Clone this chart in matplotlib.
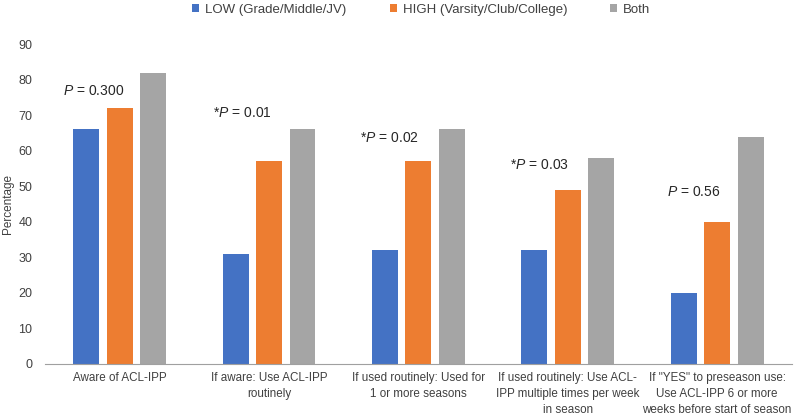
import numpy as np
import matplotlib
matplotlib.use("Agg")
import matplotlib.pyplot as plt

plt.rcParams['font.family'] = ['Liberation Sans', 'DejaVu Sans']
plt.rcParams['mathtext.fontset'] = 'custom'
plt.rcParams['mathtext.it'] = 'Liberation Sans:italic'
plt.rcParams['mathtext.rm'] = 'Liberation Sans'

categories = ["Aware of ACL-IPP",
              "If aware: Use ACL-IPP\nroutinely",
              "If used routinely: Used for\n1 or more seasons",
              "If used routinely: Use ACL-\nIPP multiple times per week\nin season",
              "If \"YES\" to preseason use:\nUse ACL-IPP 6 or more\nweeks before start of season"]
low = [66, 31, 32, 32, 20]
high = [72, 57, 57, 49, 40]
both = [82, 66, 66, 58, 64]
series_names = ["LOW (Grade/Middle/JV)", "HIGH (Varsity/Club/College)", "Both"]
p_labels = [r"$\it{P}$ = 0.300", r"*$\it{P}$ = 0.01", r"*$\it{P}$ = 0.02",
            r"*$\it{P}$ = 0.03", r"$\it{P}$ = 0.56"]
p_heights = [76.7, 70.5, 63.5, 55.9, 48.3]
p_shift = [-0.174, -0.18, -0.197, -0.187, -0.154]  # label offsets from group centre

colors = ["#4472C4", "#ED7D31", "#A5A5A5"]

fig = plt.figure(figsize=(7.95, 4.16), dpi=100)
ax = fig.add_axes([0.0566, 0.125, 0.9394, 0.769])

x = np.arange(len(categories))
w = 0.174
step = 0.224
for i, (vals, name) in enumerate(zip([low, high, both], series_names)):
    ax.bar(x + (i - 1) * step, vals, w, color=colors[i], label=name, zorder=2)

for xi, lab, h, dx in zip(x, p_labels, p_heights, p_shift):
    ax.text(xi + dx, h, lab, ha="center", va="center", fontsize=10, color="#262626")

ax.set_xlim(-0.5, len(categories) - 0.5)
ax.set_ylim(0, 90)
ax.set_yticks(range(0, 91, 10))
ax.set_xticks(x)
ax.set_xticklabels(categories, fontsize=8.4, color="#404040", linespacing=1.45)
ax.tick_params(axis="y", labelsize=9, colors="#404040", length=0, pad=9)
ax.tick_params(axis="x", length=0, pad=6)
for s in ["top", "right", "left"]:
    ax.spines[s].set_visible(False)
ax.spines["bottom"].set_color("#A0A0A0")
fig.text(8 / 795, 0.125 + 0.769 / 2, "Percentage", rotation=90, ha="center", va="center",
         fontsize=8.5, color="#404040")

fig.legend(loc="center", bbox_to_anchor=(0.53, 1 - 10 / 416), ncol=3, frameon=False,
           fontsize=9.5, handlelength=0.55, handleheight=0.55, columnspacing=3.25,
           handletextpad=0.45, labelcolor="#404040")

fig.savefig("out.png", dpi=100)
